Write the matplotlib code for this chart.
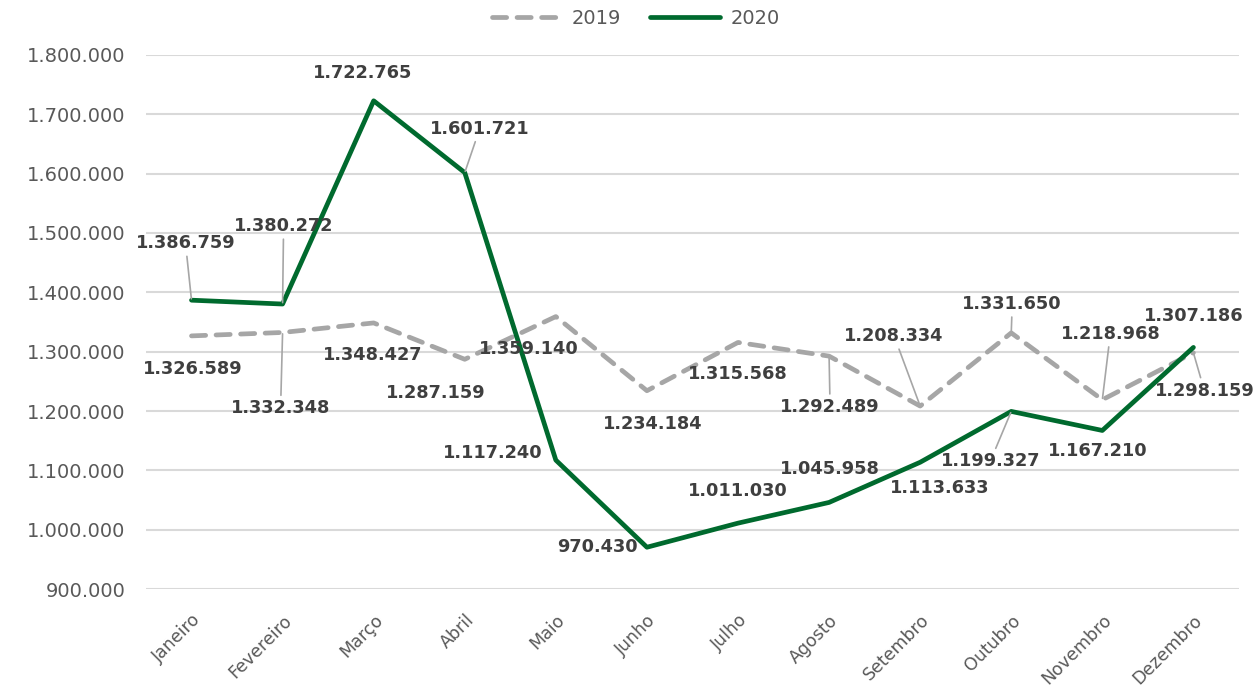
import numpy as np
import matplotlib
matplotlib.use("Agg")
import matplotlib.pyplot as plt

meses = ["Janeiro", "Fevereiro", "Março", "Abril", "Maio", "Junho", "Julho",
         "Agosto", "Setembro", "Outubro", "Novembro", "Dezembro"]
v2019 = [1326589, 1332348, 1348427, 1287159, 1359140, 1234184, 1315568,
         1292489, 1208334, 1331650, 1218968, 1298159]
v2020 = [1386759, 1380272, 1722765, 1601721, 1117240, 970430, 1011030,
         1045958, 1113633, 1199327, 1167210, 1307186]

# label offsets in pixels (dx, dy) and whether a leader line is drawn
off2020 = [(-6, 57, 1), (1, 78, 1), (-11, 28, 0), (15, 44, 1), (-63, 7, 0), (-49, 0, 0),
           (0, 32, 0), (1, 33, 0), (20, -26, 0), (-21, -50, 1), (-5, -21, 0), (0, 31, 0)]
off2019 = [(1, -33, 0), (-2, -76, 1), (-1, -32, 0), (-29, -34, 0), (-27, -32, 0), (6, -33, 0),
           (0, -32, 0), (1, -51, 1), (-26, 70, 1), (1, 29, 1), (8, 66, 1), (11, -38, 1)]

def fmt(v):
    return f"{v:,}".replace(",", ".")

fig = plt.figure(figsize=(12.54, 6.87), dpi=100)
ax = fig.add_axes([0.1164, 0.1426, 0.8716, 0.7774])

x = np.arange(len(meses))
l19, = ax.plot(x, v2019, color="#a6a6a6", lw=3.4, linestyle=(0, (3.0, 2.2)),
               dash_capstyle="round", solid_joinstyle="round", label="2019", zorder=3)
l20, = ax.plot(x, v2020, color="#006a2e", lw=3.4, solid_capstyle="round",
               solid_joinstyle="round", label="2020", zorder=4)

for vals, offs in ((v2020, off2020), (v2019, off2019)):
    for i, (v, (dx, dy, lead)) in enumerate(zip(vals, offs)):
        ap = dict(arrowstyle="-", color="#a6a6a6", lw=1.2, shrinkA=1, shrinkB=1) if lead else None
        ax.annotate(fmt(v), xy=(i, v), xytext=(dx, dy), textcoords="offset pixels",
                    ha="center", va="center", fontsize=12.8, fontweight="bold",
                    color="#3f3f3f", arrowprops=ap, zorder=5)

ax.set_xlim(-0.5, 11.5)
ax.set_ylim(900000, 1800000)
ax.set_yticks(np.arange(900000, 1800001, 100000))
ax.set_yticklabels([fmt(t) for t in np.arange(900000, 1800001, 100000)],
                   fontsize=14, color="#595959")
ax.set_xticks(x)
ax.set_xticklabels(meses, rotation=45, ha="right", rotation_mode="anchor",
                   fontsize=12.5, color="#595959")
ax.tick_params(length=0)
ax.tick_params(axis="y", pad=15)
ax.tick_params(axis="x", pad=16)
ax.grid(axis="y", color="#d9d9d9", lw=1.5)
ax.set_axisbelow(True)
for s in ax.spines.values():
    s.set_visible(False)

fig.legend(handles=[l19, l20], loc="upper center", bbox_to_anchor=(0.507, 1.012),
           ncol=2, frameon=False, fontsize=14, handlelength=3.6, columnspacing=1.5,
           handletextpad=0.5, labelcolor="#595959")

fig.savefig("out.png", dpi=100)
